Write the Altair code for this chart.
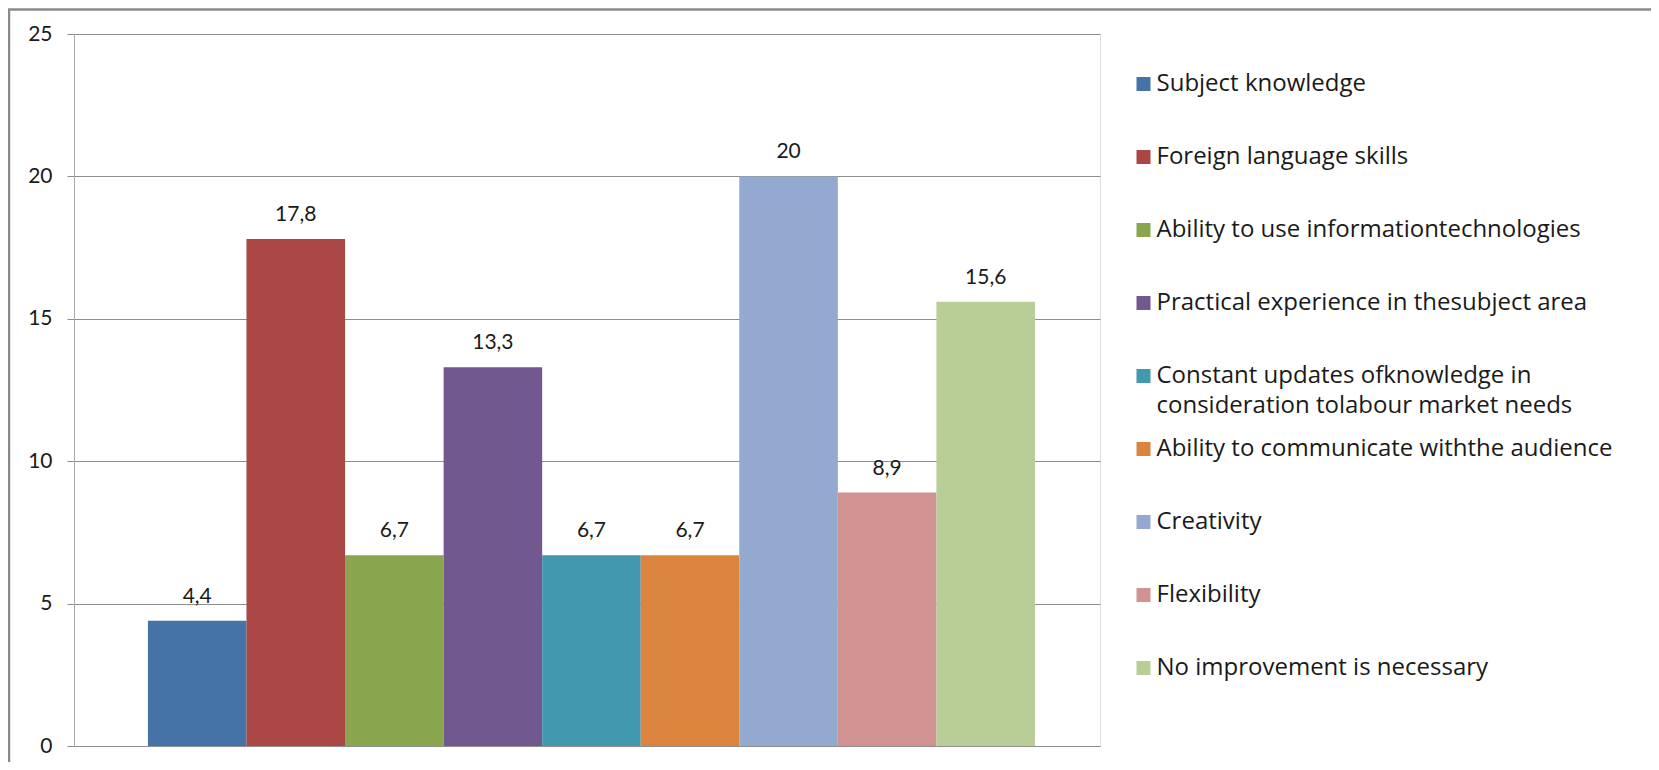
import altair as alt
import pandas as pd

categories = [
    "Subject knowledge",
    "Foreign language skills",
    "Ability to use informationtechnologies",
    "Practical experience in thesubject area",
    "Constant updates ofknowledge in\nconsideration tolabour market needs",
    "Ability to communicate withthe audience",
    "Creativity",
    "Flexibility",
    "No improvement is necessary",
]
values = [4.4, 17.8, 6.7, 13.3, 6.7, 6.7, 20, 8.9, 15.6]
colors = ["#4572A7", "#AA4643", "#89A54E", "#71588F", "#4198AF",
          "#DB843D", "#93A9CF", "#D19392", "#B9CD96"]
y_ticks = [0, 5, 10, 15, 20, 25]

df = pd.DataFrame({"category": categories, "value": values})

FONT = "Lato"
FS = 21
LEG_FONT = "Open Sans"
LEG_FS = 24
TXT = "#1a1a1a"
W, H = 1026, 712

x_enc = alt.X("category:N", sort=categories, axis=None,
              scale=alt.Scale(paddingInner=0, paddingOuter=0.705, align=0.532))
y_scale = alt.Scale(domain=[0, 25], nice=False, zero=True)
y_axis = alt.Axis(values=y_ticks, title=None, grid=True, gridColor="#8e8e8e", gridWidth=1,
                  domainColor="#ababab", domainWidth=1, tickColor="#8e8e8e", tickSize=7,
                  labelFont=FONT, labelFontSize=FS, labelColor=TXT, labelPadding=15)

legend = alt.Legend(
    orient="none", legendX=1057.5, legendY=38, direction="vertical", title=None,
    symbolType="square", symbolSize=196, symbolStrokeWidth=0, symbolOpacity=1,
    labelFont=LEG_FONT, labelFontSize=LEG_FS, labelColor=TXT, labelOffset=1, labelLimit=1000,
    rowPadding=19, padding=0,
    labelExpr="indexof(datum.label, '\\n') >= 0 ? split(datum.label, '\\n') : [datum.label, '']",
)

frame = alt.Chart(pd.DataFrame({"k": [0]})).mark_rect(
    fill="white", fillOpacity=0, stroke="#8a8a8a", strokeWidth=2.5
).encode(x=alt.value(-65), y=alt.value(-24.5), x2=alt.value(W + 700), y2=alt.value(H + 200))

bars = alt.Chart(df).mark_bar().encode(
    x=x_enc,
    y=alt.Y("value:Q", scale=y_scale, axis=y_axis),
    color=alt.Color("category:N", sort=categories,
                    scale=alt.Scale(domain=categories, range=colors), legend=legend),
)

labels = alt.Chart(df).transform_calculate(
    label="replace(format(datum.value, '.1~f'), '.', ',')"
).mark_text(font=FONT, fontSize=FS, baseline="alphabetic", dy=-18, color=TXT).encode(
    x=x_enc,
    y=alt.Y("value:Q", scale=y_scale, axis=y_axis),
    text="label:N",
)

chart = alt.layer(frame, bars, labels).properties(
    width=W, height=H,
    padding={"left": 66, "top": 26, "right": 551, "bottom": 16},
    autosize=alt.AutoSizeParams(type="none"),
).configure_view(stroke=None).configure(
    style={"guide-label": {"lineHeight": 30}}
)

chart.save("out.html", embed_options={"renderer": "svg", "actions": False})
